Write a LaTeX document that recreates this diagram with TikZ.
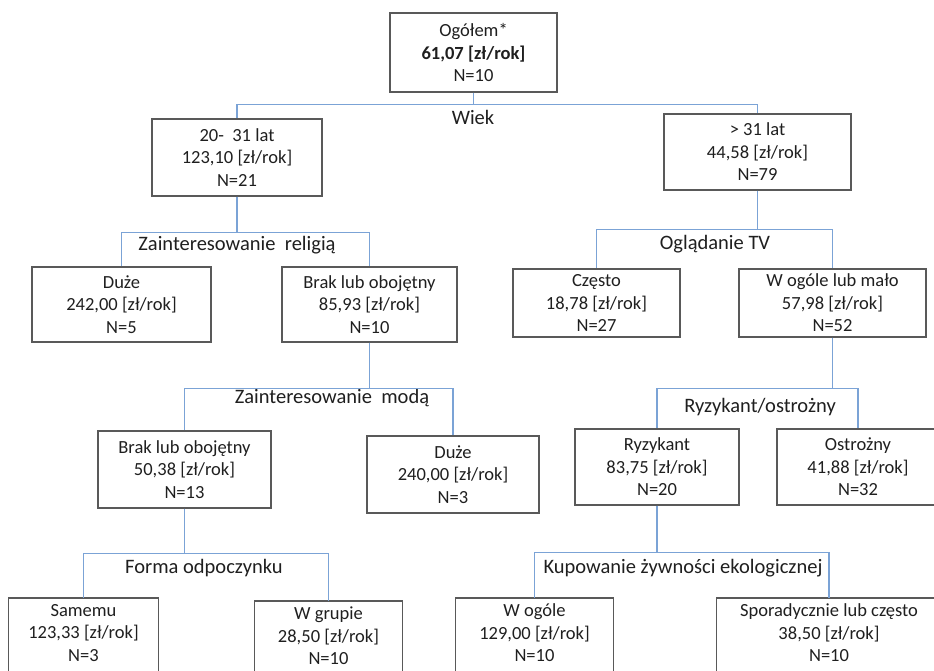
\documentclass[tikz,border=0pt]{standalone}
\usepackage{fontspec}
\setmainfont{Carlito}
\definecolor{boxgray}{HTML}{595959}
\definecolor{linkblue}{HTML}{7BA3D6}
\definecolor{txt}{HTML}{1F1F1F}

\begin{document}
\begin{tikzpicture}
  [
    x=0.03cm, y=-0.03cm,
    box/.style   = {draw=boxgray, line width=1.2pt, align=center, text=txt,
                    font=\fontsize{15.8}{19.2}\selectfont, inner sep=0pt},
    leaf/.style  = {box, draw=none, anchor=north, minimum height=68*\u},
    frame/.style = {draw=boxgray, line width=1.2pt},
    split/.style = {anchor=base, text=txt, inner sep=0pt,
                    font=\fontsize{17.5}{21}\selectfont},
    link/.style  = {draw=linkblue, line width=1.2pt},
  ]

%one pixel of the reference
\def \u{0.03cm}

%Page of the picture
\useasboundingbox (0,0) rectangle (934,670);
\clip (0,0) rectangle (934,670);

%Root and age
\node[box, minimum width=167*\u, minimum height=79*\u] (root) at (473.5,52.5) {Ogółem*\\\textbf{61,07 [zł/rok]}\\N=10};
\node[split] (wiek) at (473,124) {Wiek};
\node[box, minimum width=170*\u, minimum height=77*\u] (age1) at (237,157.5) {20-~~31 lat\\123,10 [zł/rok]\\N=21};
\node[box, minimum width=187*\u, minimum height=76*\u] (age2) at (757.5,152) {> 31 lat\\44,58 [zł/rok]\\N=79};

%Religion
\node[split] (religia) at (237,250) {Zainteresowanie~~religią};
\node[box, minimum width=179*\u, minimum height=75*\u] (rel1) at (121.5,304.5) {Duże\\242,00 [zł/rok]\\N=5};
\node[box, minimum width=175*\u, minimum height=75*\u] (rel2) at (369.5,304.5) {Brak lub obojętny\\85,93 [zł/rok]\\N=10};

%TV
\node[split] (tv) at (715,249) {Oglądanie TV};
\node[box, minimum width=167*\u, minimum height=68*\u] (tv1) at (596.5,303) {Często\\18,78 [zł/rok]\\N=27};
\node[box, minimum width=187*\u, minimum height=68*\u] (tv2) at (832.5,303) {W ogóle lub mało\\57,98 [zł/rok]\\N=52};

%Fashion
\node[split] (moda) at (332,403) {Zainteresowanie~~modą};
\node[box, minimum width=173*\u, minimum height=77*\u] (moda1) at (184.5,469.5) {Brak lub obojętny\\50,38 [zł/rok]\\N=13};
\node[box, minimum width=172*\u, minimum height=77*\u] (moda2) at (453,474.5) {Duże\\240,00 [zł/rok]\\N=3};

%Risk
\node[split] (ryzyko) at (760,412) {Ryzykant/ostrożny};
\node[box, minimum width=164*\u, minimum height=76*\u] (ryz1) at (657,467) {Ryzykant\\83,75 [zł/rok]\\N=20};
\node[box, minimum width=162*\u, minimum height=76*\u] (ryz2) at (858,467) {Ostrożny\\41,88 [zł/rok]\\N=32};

%Rest (boxes run past the bottom edge)
\node[split] (odpoczynek) at (204,573) {Forma odpoczynku};
\node[leaf, minimum width=149*\u] (odp1) at (83.5,598) {Samemu\\123,33 [zł/rok]\\N=3};
\node[leaf, minimum width=147*\u] (odp2) at (328.5,601) {W grupie\\28,50 [zł/rok]\\N=10};

%Organic food
\node[split] (eko) at (683,573) {Kupowanie żywności ekologicznej};
\node[leaf, minimum width=157*\u] (eko1) at (534.5,598) {W ogóle\\129,00 [zł/rok]\\N=10};
\node[leaf, minimum width=224*\u] (eko2) at (829,598) {Sporadycznie lub często\\38,50 [zł/rok]\\N=10};

\foreach \n in {odp1,odp2,eko1,eko2}
  \draw[frame] (\n.south west) ++(0,20) |- (\n.north east) -- ++(0,90);

%Connectors
\draw[link] (root.south) -- ++(0,12) -| (age1.north);
\draw[link] (root.south) -- ++(0,12) -| (age2.north);
\draw[link] (age1.south) -- ++(0,36) -| (rel1.north);
\draw[link] (age1.south) -- ++(0,36) -| (rel2.north);
\draw[link] (age2.south) -- ++(0,39) -| (tv1.north);
\draw[link] (age2.south) -- ++(0,39) -| (tv2.north);
\draw[link] (rel2.south) -- ++(0,46) -| (moda1.north);
\draw[link] (rel2.south) -- ++(0,46) -| (moda2.north);
\draw[link] (tv2.south) -- ++(0,51) -| (ryz1.north);
\draw[link] (tv2.south) -- ++(0,51) -| (ryz2.north);
\draw[link] (moda1.south) -- ++(0,45) -| (odp1.north);
\draw[link] (moda1.south) -- ++(0,45) -| (odp2.north);
\draw[link] (ryz1.south) -- ++(0,47) -| (eko1.north);
\draw[link] (ryz1.south) -- ++(0,47) -| (eko2.north);
\end{tikzpicture}
\end{document}
